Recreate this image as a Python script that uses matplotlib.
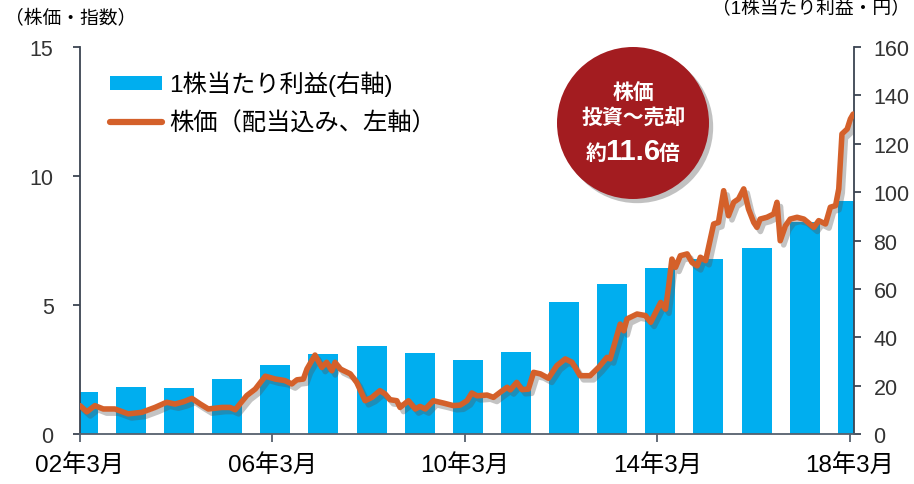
import matplotlib
matplotlib.use("Agg")
import matplotlib.pyplot as plt
import matplotlib.patheffects as pe
from matplotlib.patches import Circle, Patch
from matplotlib.lines import Line2D

plt.rcParams['font.family'] = ['Liberation Sans', 'Noto Sans CJK JP', 'DejaVu Sans']

# ---- data ----
# EPS bars (right axis, yen), fiscal years 02年3月 .. 18年3月
eps_years = list(range(2002, 2019))
eps_values = [17.4, 19.3, 18.9, 22.7, 28.4, 33.2, 36.5, 33.4, 30.7, 33.8,
              54.4, 62.1, 68.6, 72.2, 77.0, 87.8, 96.4]

# Stock price index (left axis), months since 2002-03
price_months = [0, 1.7, 3.7, 5.8, 8.7, 12.0, 15.4, 18.7, 21.6, 23.7, 25.8, 27.9,
                30.0, 32.0, 35.4, 37.4, 38.7, 41.6, 43.7, 46.2, 48.7, 51.1, 52.8,
                54.1, 55.7, 56.6, 58.6, 60.3, 61.5, 62.8, 63.6, 64.9, 67.4, 69.0,
                71.1, 72.8, 74.8, 76.1, 77.3, 79.0, 79.8, 81.9, 83.6, 84.8, 86.1,
                88.1, 90.6, 93.1, 94.8, 96.5, 97.7, 99.0, 101.5, 103.1, 104.8,
                106.5, 107.3, 108.9, 110.2, 111.8, 113.1, 114.8, 116.8, 118.9,
                121.0, 122.7, 124.7, 127.2, 129.3, 131.4, 132.2, 134.7, 135.6,
                136.4, 138.9, 141.0, 142.3, 144.8, 146.0, 146.8, 147.6, 148.5,
                149.7, 151.4, 152.6, 153.9, 154.7, 156.0, 158.0, 159.2, 160.5,
                161.7, 163.0, 164.2, 165.5, 166.7, 168.0, 168.8, 169.6, 171.3,
                173.0, 173.8, 174.6, 175.9, 177.1, 178.8, 180.5, 183.0, 184.2,
                185.9, 187.1, 188.4, 189.2, 190.0, 191.3, 192.1, 192.8]
price_values = [1.10, 0.86, 1.10, 0.97, 0.97, 0.78, 0.84, 1.03, 1.23, 1.16, 1.25, 1.38,
                1.16, 0.97, 1.03, 1.03, 0.94, 1.49, 1.74, 2.24, 2.13, 2.07, 1.94,
                2.10, 2.13, 2.52, 3.06, 2.58, 2.78, 2.45, 2.78, 2.52, 2.33, 2.00,
                1.29, 1.42, 1.68, 1.55, 1.33, 1.29, 1.03, 1.29, 0.97, 1.07, 0.97,
                1.29, 1.20, 1.10, 1.12, 1.29, 1.59, 1.48, 1.51, 1.42, 1.62,
                1.81, 1.71, 2.00, 1.72, 1.74, 2.39, 2.33, 2.16, 2.65,
                2.91, 2.78, 2.26, 2.26, 2.58, 2.97, 2.91, 4.26, 4.00,
                4.46, 4.65, 4.59, 4.33, 5.10, 4.84, 5.75, 6.78, 6.46,
                6.91, 6.98, 6.65, 6.52, 6.85, 6.72, 8.14, 8.20, 9.43,
                8.46, 8.98, 9.11, 9.50, 8.72, 8.20, 8.01, 8.33, 8.40,
                8.53, 8.98, 7.49, 8.07, 8.33, 8.40, 8.33, 8.01, 8.27,
                8.14, 8.79, 8.85, 9.50, 11.63, 11.82, 12.21, 12.40]

xtick_months = [0, 48, 96, 144, 192]
xtick_labels = ['02年3月', '06年3月', '10年3月', '14年3月', '18年3月']
left_ticks = [0, 5, 10, 15]
right_ticks = list(range(0, 161, 20))

BAR_COLOR = '#00AEEF'
LINE_COLOR = '#D4602A'
SPINE_COLOR = '#3B4452'
TEXT_COLOR = '#333333'

fig = plt.figure(figsize=(9.14, 4.85), dpi=100)
ax = fig.add_axes([80 / 914, 1 - 435 / 485, (854 - 80) / 914, (435 - 48) / 485])
ax2 = ax.twinx()

bar_pos = [(y - eps_years[0]) * 12 + 0.7 for y in eps_years]
bars = ax2.bar(bar_pos, eps_values, width=7.5, color=BAR_COLOR, zorder=1)

line, = ax.plot(price_months, price_values, color=LINE_COLOR, lw=4.0,
                solid_joinstyle='round', solid_capstyle='round', zorder=3,
                path_effects=[pe.SimpleLineShadow(offset=(2.5, -3), shadow_color='#555555', alpha=0.35),
                              pe.Normal()])

ax.set_zorder(ax2.get_zorder() + 1)
ax.patch.set_visible(False)

ax.set_xlim(0, 193)
ax.set_ylim(0, 15)
ax2.set_ylim(0, 160)

ax.set_xticks(xtick_months)
ax.set_xticklabels(xtick_labels, fontsize=17.5, color='black')
ax.set_yticks(left_ticks)
ax.set_yticklabels([str(t) for t in left_ticks], fontsize=15.5, color=TEXT_COLOR)
ax2.set_yticks(right_ticks)
ax2.set_yticklabels([str(t) for t in right_ticks], fontsize=15.5, color=TEXT_COLOR)

for s in ['top', 'right']:
    ax.spines[s].set_visible(False)
for s in ['top', 'left', 'bottom']:
    ax2.spines[s].set_visible(False)
ax.spines['left'].set_color(SPINE_COLOR)
ax.spines['bottom'].set_color('#56606D')
ax2.spines['right'].set_color(SPINE_COLOR)
for sp in [ax.spines['left'], ax.spines['bottom'], ax2.spines['right']]:
    sp.set_linewidth(1.3)

ax.tick_params(axis='y', direction='out', length=5, width=1.3, color=SPINE_COLOR, pad=14)
ax.tick_params(axis='x', direction='out', length=6, width=1.3, color='#56606D', pad=8)
ax2.tick_params(axis='y', direction='out', length=5, width=1.3, color=SPINE_COLOR, pad=9)

# axis unit labels
fig.text(5 / 914, 1 - 19 / 485, '（株価・指数）', fontsize=13.5, ha='left', va='center', color='black')
fig.text(910 / 914, 1 - 9 / 485, '（1株当たり利益・円）', fontsize=13.5, ha='right', va='center', color='black')

# legend
handles = [Patch(facecolor=BAR_COLOR, edgecolor='none'),
           Line2D([0], [0], color=LINE_COLOR, lw=4.5, solid_capstyle='round')]
labels = ['1株当たり利益(右軸)', '株価（配当込み、左軸）']
ax.legend(handles, labels, loc='upper left', bbox_to_anchor=((110 - 80) / 774, (435 - 72) / 387),
          frameon=False, fontsize=17.5, handlelength=2.15, handleheight=0.55, handletextpad=0.3,
          labelspacing=0.62, borderaxespad=0, borderpad=0)

# annotation circle
circ = Circle((633, 485 - 124), 76, transform=None, facecolor='#A31C20', edgecolor='none',
              path_effects=[pe.SimplePatchShadow(offset=(3, -3), shadow_rgbFace='#777777', alpha=0.45),
                            pe.Normal()], zorder=10)
fig.patches.append(circ)
fig.text(633 / 914, 1 - 93 / 485, '株価', color='white', fontsize=15, fontweight='bold',
         ha='center', va='center', zorder=11)
fig.text(634 / 914, 1 - 119 / 485, '投資～売却', color='white', fontsize=15, fontweight='bold',
         ha='center', va='center', zorder=11)
fig.text(633 / 914, 1 - 152 / 485, '11.6', color='white', fontsize=21, fontweight='bold',
         ha='center', va='center', zorder=11)
fig.text(607 / 914, 1 - 154 / 485, '約', color='white', fontsize=15, fontweight='bold',
         ha='right', va='center', zorder=11)
fig.text(659 / 914, 1 - 154 / 485, '倍', color='white', fontsize=15, fontweight='bold',
         ha='left', va='center', zorder=11)

fig.savefig('out.png', dpi=100)
